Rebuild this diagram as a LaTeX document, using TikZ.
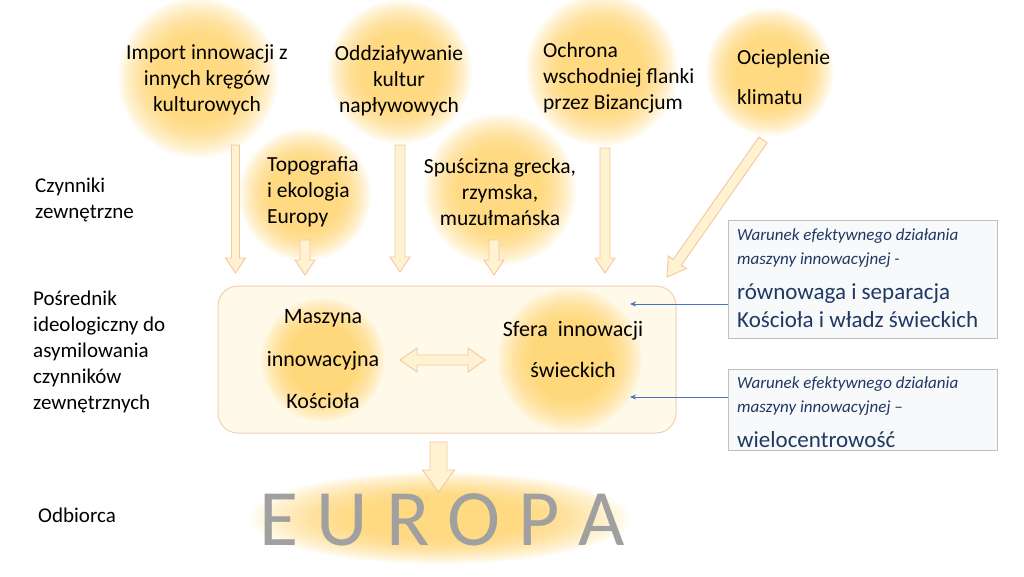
\documentclass[tikz,border=0pt]{standalone}
\usepackage{fontspec}
\setmainfont{Carlito}
\usetikzlibrary{calc,arrows.meta}
\definecolor{glowc}{RGB}{255,212,95}
\definecolor{arrfill}{RGB}{255,242,208}
\definecolor{arrdraw}{RGB}{246,198,160}
\definecolor{boxfill}{RGB}{255,249,233}
\definecolor{boxdraw}{RGB}{247,206,178}
\definecolor{notefill}{RGB}{248,249,250}
\definecolor{notedraw}{RGB}{191,191,191}
\definecolor{notetext}{RGB}{31,56,100}
\definecolor{blueline}{RGB}{68,114,196}
\definecolor{eurogray}{RGB}{160,160,160}
\tikzset{
  glowlayer/.style={fill=glowc, fill opacity=0.068},
  blockarr/.style={fill=arrfill, draw=arrdraw, line width=0.9pt, line join=miter},
  txt/.style={font=\fontsize{21.5}{26}\selectfont, inner sep=0pt, align=center, text=black},
  ltxt/.style={txt, align=left},
  mainbox/.style={draw=boxdraw, fill=boxfill, line width=1pt, rounded corners=20pt, minimum width=458pt, minimum height=147pt, inner sep=0pt},
  notebox/.style={draw=notedraw, fill=notefill, line width=0.9pt, minimum width=269pt, inner sep=0pt},
  noteit/.style={font=\fontsize{17}{24}\selectfont\itshape, text=notetext, inner sep=0pt, align=left, anchor=west},
  notemain/.style={font=\fontsize{23}{27.5}\selectfont, text=notetext, inner sep=0pt, align=left, anchor=west},
  bluearr/.style={draw=blueline, line width=0.8pt, -{Stealth[length=6pt,width=5pt]}}
}
\newcommand\glowcirc[3]{%
  \foreach \k in {0,...,19}{\fill[glowlayer] (#1,#2) circle[radius={(#3*(1-0.024*\k))*1pt}];}}
\newcommand\glowell[4]{%
  \foreach \k in {0,...,19}{\fill[glowlayer] (#1,#2) ellipse[x radius={(#3*(1-0.028*\k))*1pt}, y radius={(#4*(1-0.028*\k))*1pt}];}}
\newcommand\blockarrow[5]{%
  \coordinate (bah) at ($(#2)!#5pt!(#1)$);
  \draw[blockarr] ($(#1)!#3pt!90:(#2)$) -- ($(bah)!#3pt!-90:(#1)$) -- ($(bah)!#4pt!-90:(#1)$) -- (#2)
    -- ($(bah)!#4pt!90:(#1)$) -- ($(bah)!#3pt!90:(#1)$) -- ($(#1)!#3pt!-90:(#2)$) -- cycle;}
\begin{document}
\begin{tikzpicture}[x=1pt,y=-1pt]
\fill[white] (0,0) rectangle (1024,576);
\useasboundingbox (0,0) rectangle (1024,576);
% outer glows
\glowcirc{198}{78}{80}
\glowcirc{400}{72}{72}
\glowcirc{602}{70}{76}
\glowcirc{770}{72}{64}
\glowcirc{305}{195}{66}
\glowcirc{500}{190}{76}
% main box
\node[mainbox] (box) at (447,359.5) {};
\glowcirc{323}{360}{62}
\glowcirc{570}{360}{72}
\glowell{440}{518}{190}{46}
% note boxes
\node[notebox, minimum height=118pt] (n1) at (862.5,279) {};
\node[notebox, minimum height=81pt] (n2) at (862.5,409.5) {};
% block arrows
\coordinate (a1s) at (235.5,145); \coordinate (a1e) at (235.5,273);
\coordinate (a2s) at (305,240);   \coordinate (a2e) at (305,275);
\coordinate (a3s) at (400,145);   \coordinate (a3e) at (400,272);
\coordinate (a4s) at (494,240);   \coordinate (a4e) at (494,275);
\coordinate (a5s) at (605,148);   \coordinate (a5e) at (605,273);
\coordinate (a6s) at (763,140);   \coordinate (a6e) at (667,277);
\coordinate (a7s) at (438.5,442); \coordinate (a7e) at (438.5,492);
\blockarrow{a1s}{a1e}{4}{10}{15}
\blockarrow{a2s}{a2e}{5}{10}{15}
\blockarrow{a3s}{a3e}{5}{10}{15}
\blockarrow{a4s}{a4e}{5}{10}{15}
\blockarrow{a5s}{a5e}{5}{10}{15}
\blockarrow{a6s}{a6e}{5}{11}{18}
\blockarrow{a7s}{a7e}{8.5}{16}{22}
% double arrow
\coordinate (dl) at (400,360); \coordinate (dr) at (485,360);
\draw[blockarr] (dl) -- ($(dl)+(17,-12)$) -- ($(dl)+(17,-5)$) -- ($(dr)+(-17,-5)$) -- ($(dr)+(-17,-12)$) -- (dr)
  -- ($(dr)+(-17,12)$) -- ($(dr)+(-17,5)$) -- ($(dl)+(17,5)$) -- ($(dl)+(17,12)$) -- cycle;
% blue arrows
\coordinate (t1) at (630,304);
\coordinate (t2) at (630,397);
\draw[bluearr] (n1.west |- t1) -- (t1);
\draw[bluearr] (n2.west |- t2) -- (t2);
% texts
\node[txt] (c1) at (207,79.5) {Import innowacji z\\innych kręgów\\kulturowych};
\node[txt] (c2) at (399,80.5) {Oddziaływanie\\kultur\\napływowych};
\node[ltxt, anchor=west] (c3) at (543,77.5) {Ochrona\\wschodniej flanki\\przez Bizancjum};
\node[ltxt, anchor=west, font=\fontsize{21.5}{40}\selectfont] (c4) at (737,77) {Ocieplenie\\klimatu};
\node[ltxt, anchor=west] (c5) at (267,192) {Topografia\\i ekologia\\Europy};
\node[txt] (c6) at (500,192.5) {Spuścizna grecka,\\rzymska,\\muzułmańska};
\node[txt, font=\fontsize{22}{42.5}\selectfont] (m1) at (323,359.5) {Maszyna\\innowacyjna\\Kościoła};
\node[txt, font=\fontsize{22}{41}\selectfont] (m2) at (573,349.5) {Sfera\ \ innowacji\\świeckich};
\node[ltxt, anchor=west, font=\fontsize{21}{26}\selectfont] (l1) at (35,199.5) {Czynniki\\zewnętrzne};
\node[ltxt, anchor=west, font=\fontsize{21}{26}\selectfont] (l2) at (33,352) {Pośrednik\\ideologiczny do\\asymilowania\\czynników\\zewnętrznych};
\node[ltxt, anchor=west, font=\fontsize{21}{26}\selectfont] (l3) at (38,515) {Odbiorca};
\node[noteit] (n1a) at (737,248) {Warunek efektywnego działania\\maszyny innowacyjnej -};
\node[notemain] (n1b) at (737,305.5) {równowaga i separacja\\Kościoła i władz świeckich};
\node[noteit] (n2a) at (737,396.5) {Warunek efektywnego działania\\maszyny innowacyjnej –};
\node[notemain] (n2b) at (737,440) {wielocentrowość};
\node[anchor=base, inner sep=0pt, font=\fontsize{80}{90}\selectfont, text=eurogray] (eu) at (442,545) {E U R O P A};
\end{tikzpicture}
\end{document}
